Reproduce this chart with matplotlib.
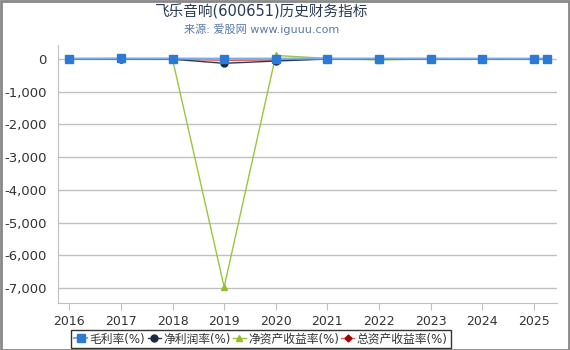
import matplotlib
matplotlib.use("Agg")
import matplotlib.pyplot as plt
from matplotlib.patches import Rectangle

plt.rcParams['font.family'] = ['DejaVu Sans', 'Noto Sans CJK SC']

years = [2016, 2017, 2018, 2019, 2020, 2021, 2022, 2023, 2024, 2025, 2025.25]
gross_margin = [15, 18, 16, 12, 14, 16, 15, 17, 14, 13, 14]
net_margin = [3, 2, -5, -130, -60, 2, -3, 1, -2, -4, -3]
roe = [2, 1, -10, -6970, 110, 20, -25, 3, -5, -8, -6]
roa = [1, 1, -4, -40, -30, 1, -2, 1, -1, -2, -1]
year_ticks = list(range(2016, 2026))
y_ticks = [0, -1000, -2000, -3000, -4000, -5000, -6000, -7000]

fig = plt.figure(figsize=(5.7, 3.5), dpi=100)
ax = fig.add_axes([58 / 570, 1 - 303 / 350, 499 / 570, 258 / 350])

ax.plot(years, roa, color="#e06060", lw=1.0, marker="D", ms=3.5, mfc="#a00000", mec="#a00000", label="总资产收益率(%)", zorder=3)
ax.plot(years, roe, color="#9bc53d", lw=1.0, marker="^", ms=5, mfc="#8fbf2a", mec="#8fbf2a", label="净资产收益率(%)", zorder=2)
ax.plot(years, net_margin, color="#2a3a55", lw=1.0, marker="o", ms=5, mfc="#1a2a40", mec="#1a2a40", label="净利润率(%)", zorder=4)
ax.plot(years, gross_margin, color="#7aaee8", lw=1.5, marker="s", ms=5.5, mfc="#2b7bd6", mec="#2b7bd6", label="毛利率(%)", zorder=5)

ax.set_xlim(2015.78, 2025.45)
ax.set_ylim(-7460, 430)
ax.set_xticks(year_ticks)
ax.set_xticklabels([str(y) for y in year_ticks])
ax.set_yticks(y_ticks)
ax.set_yticklabels([f"{v:,}" for v in y_ticks])
ax.grid(axis="y", color="#c0c0c0", lw=1)
ax.set_axisbelow(True)
for s in ["top", "right"]:
    ax.spines[s].set_visible(False)
ax.spines["left"].set_color("#c0c0c0")
ax.spines["bottom"].set_color("#c0c0c0")
ax.tick_params(axis="y", length=0, labelsize=9.5, colors="#333333", pad=8)
ax.tick_params(axis="x", length=5, color="#c0c0c0", labelsize=9, labelcolor="#333333")

handles, labels = ax.get_legend_handles_labels()
order = [3, 2, 1, 0]
leg = fig.legend([handles[i] for i in order], [labels[i] for i in order],
                 loc="center", bbox_to_anchor=(261 / 570, 1 - 339 / 350), ncol=4,
                 fontsize=8.5, frameon=True, fancybox=False, handlelength=1.1,
                 handletextpad=0.2, columnspacing=0.2, borderpad=0.25, borderaxespad=0)
leg.get_frame().set_edgecolor("black")
leg.get_frame().set_linewidth(1.0)
for t in leg.get_texts():
    t.set_color("#333333")

fig.text(262 / 570, 1 - 12 / 350, "飞乐音响(600651)历史财务指标", ha="center", va="center", fontsize=10.5, color="#2a3a55")
fig.text(262 / 570, 1 - 29 / 350, "来源: 爱股网 www.iguuu.com", ha="center", va="center", fontsize=8, color="#5a7aa5")

fig.patches.append(Rectangle((0.5 / 570, 0.5 / 350), 568.5 / 570, 349 / 350, transform=fig.transFigure,
                             fill=False, edgecolor="#888888", lw=2))

fig.savefig("out.png", dpi=100)
